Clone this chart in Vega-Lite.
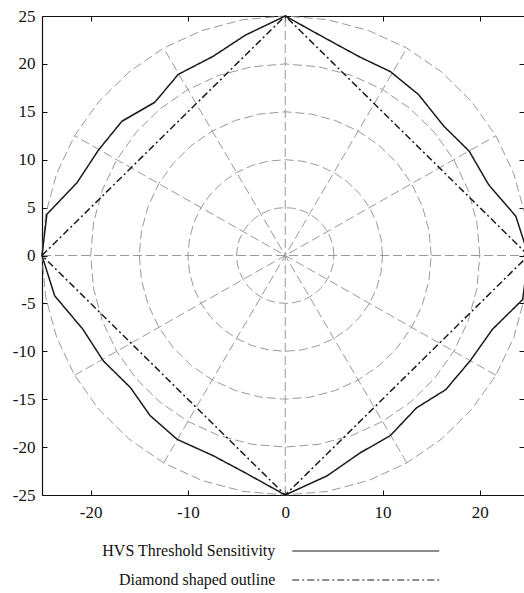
{
"$schema": "https://vega.github.io/schema/vega-lite/v6.json",
"autosize": {"type": "none"},
"width": 482, "height": 479,
"padding": {"left": 42, "top": 16, "right": 0, "bottom": 98},
"background": "white",
"config": {"view": {"stroke": null}, "axis": {"labelFont": "Liberation Serif", "labelFontSize": 17, "labelColor": "#111", "domainColor": "#111", "tickColor": "#111", "grid": false, "title": null, "labelFlush": false, "domainWidth": 1.2, "tickWidth": 1}},
"datasets": {
"grid": [
{"g":"c5","o":0,"x":5,"y":0},{"g":"c5","o":10,"x":4.924,"y":0.868},{"g":"c5","o":20,"x":4.698,"y":1.71},{"g":"c5","o":30,"x":4.33,"y":2.5},{"g":"c5","o":40,"x":3.83,"y":3.214},{"g":"c5","o":50,"x":3.214,"y":3.83},{"g":"c5","o":60,"x":2.5,"y":4.33},{"g":"c5","o":70,"x":1.71,"y":4.698},{"g":"c5","o":80,"x":0.868,"y":4.924},{"g":"c5","o":90,"x":0,"y":5},
{"g":"c5","o":100,"x":-0.868,"y":4.924},{"g":"c5","o":110,"x":-1.71,"y":4.698},{"g":"c5","o":120,"x":-2.5,"y":4.33},{"g":"c5","o":130,"x":-3.214,"y":3.83},{"g":"c5","o":140,"x":-3.83,"y":3.214},{"g":"c5","o":150,"x":-4.33,"y":2.5},{"g":"c5","o":160,"x":-4.698,"y":1.71},{"g":"c5","o":170,"x":-4.924,"y":0.868},{"g":"c5","o":180,"x":-5,"y":0},
{"g":"c5","o":190,"x":-4.924,"y":-0.868},{"g":"c5","o":200,"x":-4.698,"y":-1.71},{"g":"c5","o":210,"x":-4.33,"y":-2.5},{"g":"c5","o":220,"x":-3.83,"y":-3.214},{"g":"c5","o":230,"x":-3.214,"y":-3.83},{"g":"c5","o":240,"x":-2.5,"y":-4.33},{"g":"c5","o":250,"x":-1.71,"y":-4.698},{"g":"c5","o":260,"x":-0.868,"y":-4.924},{"g":"c5","o":270,"x":0,"y":-5},
{"g":"c5","o":280,"x":0.868,"y":-4.924},{"g":"c5","o":290,"x":1.71,"y":-4.698},{"g":"c5","o":300,"x":2.5,"y":-4.33},{"g":"c5","o":310,"x":3.214,"y":-3.83},{"g":"c5","o":320,"x":3.83,"y":-3.214},{"g":"c5","o":330,"x":4.33,"y":-2.5},{"g":"c5","o":340,"x":4.698,"y":-1.71},{"g":"c5","o":350,"x":4.924,"y":-0.868},{"g":"c5","o":360,"x":5,"y":0},
{"g":"c10","o":0,"x":10,"y":0},{"g":"c10","o":10,"x":9.848,"y":1.736},{"g":"c10","o":20,"x":9.397,"y":3.42},{"g":"c10","o":30,"x":8.66,"y":5},{"g":"c10","o":40,"x":7.66,"y":6.428},{"g":"c10","o":50,"x":6.428,"y":7.66},{"g":"c10","o":60,"x":5,"y":8.66},{"g":"c10","o":70,"x":3.42,"y":9.397},{"g":"c10","o":80,"x":1.736,"y":9.848},{"g":"c10","o":90,"x":0,"y":10},
{"g":"c10","o":100,"x":-1.736,"y":9.848},{"g":"c10","o":110,"x":-3.42,"y":9.397},{"g":"c10","o":120,"x":-5,"y":8.66},{"g":"c10","o":130,"x":-6.428,"y":7.66},{"g":"c10","o":140,"x":-7.66,"y":6.428},{"g":"c10","o":150,"x":-8.66,"y":5},{"g":"c10","o":160,"x":-9.397,"y":3.42},{"g":"c10","o":170,"x":-9.848,"y":1.736},{"g":"c10","o":180,"x":-10,"y":0},
{"g":"c10","o":190,"x":-9.848,"y":-1.736},{"g":"c10","o":200,"x":-9.397,"y":-3.42},{"g":"c10","o":210,"x":-8.66,"y":-5},{"g":"c10","o":220,"x":-7.66,"y":-6.428},{"g":"c10","o":230,"x":-6.428,"y":-7.66},{"g":"c10","o":240,"x":-5,"y":-8.66},{"g":"c10","o":250,"x":-3.42,"y":-9.397},{"g":"c10","o":260,"x":-1.736,"y":-9.848},{"g":"c10","o":270,"x":0,"y":-10},
{"g":"c10","o":280,"x":1.736,"y":-9.848},{"g":"c10","o":290,"x":3.42,"y":-9.397},{"g":"c10","o":300,"x":5,"y":-8.66},{"g":"c10","o":310,"x":6.428,"y":-7.66},{"g":"c10","o":320,"x":7.66,"y":-6.428},{"g":"c10","o":330,"x":8.66,"y":-5},{"g":"c10","o":340,"x":9.397,"y":-3.42},{"g":"c10","o":350,"x":9.848,"y":-1.736},{"g":"c10","o":360,"x":10,"y":0},
{"g":"c15","o":0,"x":15,"y":0},{"g":"c15","o":10,"x":14.772,"y":2.605},{"g":"c15","o":20,"x":14.095,"y":5.13},{"g":"c15","o":30,"x":12.99,"y":7.5},{"g":"c15","o":40,"x":11.491,"y":9.642},{"g":"c15","o":50,"x":9.642,"y":11.491},{"g":"c15","o":60,"x":7.5,"y":12.99},{"g":"c15","o":70,"x":5.13,"y":14.095},{"g":"c15","o":80,"x":2.605,"y":14.772},{"g":"c15","o":90,"x":0,"y":15},
{"g":"c15","o":100,"x":-2.605,"y":14.772},{"g":"c15","o":110,"x":-5.13,"y":14.095},{"g":"c15","o":120,"x":-7.5,"y":12.99},{"g":"c15","o":130,"x":-9.642,"y":11.491},{"g":"c15","o":140,"x":-11.491,"y":9.642},{"g":"c15","o":150,"x":-12.99,"y":7.5},{"g":"c15","o":160,"x":-14.095,"y":5.13},{"g":"c15","o":170,"x":-14.772,"y":2.605},{"g":"c15","o":180,"x":-15,"y":0},
{"g":"c15","o":190,"x":-14.772,"y":-2.605},{"g":"c15","o":200,"x":-14.095,"y":-5.13},{"g":"c15","o":210,"x":-12.99,"y":-7.5},{"g":"c15","o":220,"x":-11.491,"y":-9.642},{"g":"c15","o":230,"x":-9.642,"y":-11.491},{"g":"c15","o":240,"x":-7.5,"y":-12.99},{"g":"c15","o":250,"x":-5.13,"y":-14.095},{"g":"c15","o":260,"x":-2.605,"y":-14.772},{"g":"c15","o":270,"x":0,"y":-15},
{"g":"c15","o":280,"x":2.605,"y":-14.772},{"g":"c15","o":290,"x":5.13,"y":-14.095},{"g":"c15","o":300,"x":7.5,"y":-12.99},{"g":"c15","o":310,"x":9.642,"y":-11.491},{"g":"c15","o":320,"x":11.491,"y":-9.642},{"g":"c15","o":330,"x":12.99,"y":-7.5},{"g":"c15","o":340,"x":14.095,"y":-5.13},{"g":"c15","o":350,"x":14.772,"y":-2.605},{"g":"c15","o":360,"x":15,"y":0},
{"g":"c20","o":0,"x":20,"y":0},{"g":"c20","o":10,"x":19.696,"y":3.473},{"g":"c20","o":20,"x":18.794,"y":6.84},{"g":"c20","o":30,"x":17.321,"y":10},{"g":"c20","o":40,"x":15.321,"y":12.856},{"g":"c20","o":50,"x":12.856,"y":15.321},{"g":"c20","o":60,"x":10,"y":17.321},{"g":"c20","o":70,"x":6.84,"y":18.794},{"g":"c20","o":80,"x":3.473,"y":19.696},{"g":"c20","o":90,"x":0,"y":20},
{"g":"c20","o":100,"x":-3.473,"y":19.696},{"g":"c20","o":110,"x":-6.84,"y":18.794},{"g":"c20","o":120,"x":-10,"y":17.321},{"g":"c20","o":130,"x":-12.856,"y":15.321},{"g":"c20","o":140,"x":-15.321,"y":12.856},{"g":"c20","o":150,"x":-17.321,"y":10},{"g":"c20","o":160,"x":-18.794,"y":6.84},{"g":"c20","o":170,"x":-19.696,"y":3.473},{"g":"c20","o":180,"x":-20,"y":0},
{"g":"c20","o":190,"x":-19.696,"y":-3.473},{"g":"c20","o":200,"x":-18.794,"y":-6.84},{"g":"c20","o":210,"x":-17.321,"y":-10},{"g":"c20","o":220,"x":-15.321,"y":-12.856},{"g":"c20","o":230,"x":-12.856,"y":-15.321},{"g":"c20","o":240,"x":-10,"y":-17.321},{"g":"c20","o":250,"x":-6.84,"y":-18.794},{"g":"c20","o":260,"x":-3.473,"y":-19.696},{"g":"c20","o":270,"x":0,"y":-20},
{"g":"c20","o":280,"x":3.473,"y":-19.696},{"g":"c20","o":290,"x":6.84,"y":-18.794},{"g":"c20","o":300,"x":10,"y":-17.321},{"g":"c20","o":310,"x":12.856,"y":-15.321},{"g":"c20","o":320,"x":15.321,"y":-12.856},{"g":"c20","o":330,"x":17.321,"y":-10},{"g":"c20","o":340,"x":18.794,"y":-6.84},{"g":"c20","o":350,"x":19.696,"y":-3.473},{"g":"c20","o":360,"x":20,"y":0},
{"g":"c25","o":0,"x":25,"y":0},{"g":"c25","o":10,"x":24.62,"y":4.341},{"g":"c25","o":20,"x":23.492,"y":8.551},{"g":"c25","o":30,"x":21.651,"y":12.5},{"g":"c25","o":40,"x":19.151,"y":16.07},{"g":"c25","o":50,"x":16.07,"y":19.151},{"g":"c25","o":60,"x":12.5,"y":21.651},{"g":"c25","o":70,"x":8.551,"y":23.492},{"g":"c25","o":80,"x":4.341,"y":24.62},{"g":"c25","o":90,"x":0,"y":25},
{"g":"c25","o":100,"x":-4.341,"y":24.62},{"g":"c25","o":110,"x":-8.551,"y":23.492},{"g":"c25","o":120,"x":-12.5,"y":21.651},{"g":"c25","o":130,"x":-16.07,"y":19.151},{"g":"c25","o":140,"x":-19.151,"y":16.07},{"g":"c25","o":150,"x":-21.651,"y":12.5},{"g":"c25","o":160,"x":-23.492,"y":8.551},{"g":"c25","o":170,"x":-24.62,"y":4.341},{"g":"c25","o":180,"x":-25,"y":0},
{"g":"c25","o":190,"x":-24.62,"y":-4.341},{"g":"c25","o":200,"x":-23.492,"y":-8.551},{"g":"c25","o":210,"x":-21.651,"y":-12.5},{"g":"c25","o":220,"x":-19.151,"y":-16.07},{"g":"c25","o":230,"x":-16.07,"y":-19.151},{"g":"c25","o":240,"x":-12.5,"y":-21.651},{"g":"c25","o":250,"x":-8.551,"y":-23.492},{"g":"c25","o":260,"x":-4.341,"y":-24.62},{"g":"c25","o":270,"x":0,"y":-25},
{"g":"c25","o":280,"x":4.341,"y":-24.62},{"g":"c25","o":290,"x":8.551,"y":-23.492},{"g":"c25","o":300,"x":12.5,"y":-21.651},{"g":"c25","o":310,"x":16.07,"y":-19.151},{"g":"c25","o":320,"x":19.151,"y":-16.07},{"g":"c25","o":330,"x":21.651,"y":-12.5},{"g":"c25","o":340,"x":23.492,"y":-8.551},{"g":"c25","o":350,"x":24.62,"y":-4.341},{"g":"c25","o":360,"x":25,"y":0},
{"g":"s0","o":0,"x":-25,"y":0},{"g":"s0","o":1,"x":25,"y":0},
{"g":"s30","o":0,"x":-21.651,"y":-12.5},{"g":"s30","o":1,"x":21.651,"y":12.5},
{"g":"s60","o":0,"x":-12.5,"y":-21.651},{"g":"s60","o":1,"x":12.5,"y":21.651},
{"g":"s90","o":0,"x":0,"y":-25},{"g":"s90","o":1,"x":0,"y":25},
{"g":"s120","o":0,"x":12.5,"y":-21.651},{"g":"s120","o":1,"x":-12.5,"y":21.651},
{"g":"s150","o":0,"x":21.651,"y":-12.5},{"g":"s150","o":1,"x":-21.651,"y":12.5}
],
"curves": [
{"s":"HVS Threshold Sensitivity","o":0,"x":25,"y":0},
{"s":"HVS Threshold Sensitivity","o":10,"x":23.7,"y":4.1},
{"s":"HVS Threshold Sensitivity","o":20,"x":20.9,"y":7.4},
{"s":"HVS Threshold Sensitivity","o":30,"x":18.9,"y":10.9},
{"s":"HVS Threshold Sensitivity","o":40,"x":16.3,"y":13.5},
{"s":"HVS Threshold Sensitivity","o":50,"x":13.7,"y":16.8},
{"s":"HVS Threshold Sensitivity","o":60,"x":10.8,"y":19.2},
{"s":"HVS Threshold Sensitivity","o":70,"x":7.7,"y":20.7},
{"s":"HVS Threshold Sensitivity","o":80,"x":3.9,"y":22.8},
{"s":"HVS Threshold Sensitivity","o":90,"x":0,"y":25},
{"s":"HVS Threshold Sensitivity","o":100,"x":-4.1,"y":23.0},
{"s":"HVS Threshold Sensitivity","o":110,"x":-7.4,"y":20.8},
{"s":"HVS Threshold Sensitivity","o":120,"x":-11.0,"y":18.9},
{"s":"HVS Threshold Sensitivity","o":130,"x":-13.4,"y":16.0},
{"s":"HVS Threshold Sensitivity","o":140,"x":-16.8,"y":14.0},
{"s":"HVS Threshold Sensitivity","o":150,"x":-19.2,"y":11.0},
{"s":"HVS Threshold Sensitivity","o":160,"x":-21.4,"y":7.6},
{"s":"HVS Threshold Sensitivity","o":170,"x":-24.5,"y":4.3},
{"s":"HVS Threshold Sensitivity","o":180,"x":-25,"y":0},
{"s":"HVS Threshold Sensitivity","o":190,"x":-23.7,"y":-4.2},
{"s":"HVS Threshold Sensitivity","o":200,"x":-20.8,"y":-7.7},
{"s":"HVS Threshold Sensitivity","o":210,"x":-18.7,"y":-11.0},
{"s":"HVS Threshold Sensitivity","o":220,"x":-15.9,"y":-13.8},
{"s":"HVS Threshold Sensitivity","o":230,"x":-13.9,"y":-16.7},
{"s":"HVS Threshold Sensitivity","o":240,"x":-11.1,"y":-19.2},
{"s":"HVS Threshold Sensitivity","o":250,"x":-7.4,"y":-20.9},
{"s":"HVS Threshold Sensitivity","o":260,"x":-3.9,"y":-22.8},
{"s":"HVS Threshold Sensitivity","o":270,"x":0,"y":-25},
{"s":"HVS Threshold Sensitivity","o":280,"x":4.3,"y":-23.0},
{"s":"HVS Threshold Sensitivity","o":290,"x":7.7,"y":-20.6},
{"s":"HVS Threshold Sensitivity","o":300,"x":10.8,"y":-18.8},
{"s":"HVS Threshold Sensitivity","o":310,"x":13.5,"y":-15.9},
{"s":"HVS Threshold Sensitivity","o":320,"x":16.5,"y":-14.0},
{"s":"HVS Threshold Sensitivity","o":330,"x":19.0,"y":-11.0},
{"s":"HVS Threshold Sensitivity","o":340,"x":21.3,"y":-7.7},
{"s":"HVS Threshold Sensitivity","o":350,"x":24.4,"y":-4.6},
{"s":"HVS Threshold Sensitivity","o":360,"x":25,"y":0},
{"s":"Diamond shaped outline","o":0,"x":-25,"y":0},
{"s":"Diamond shaped outline","o":1,"x":0,"y":25},
{"s":"Diamond shaped outline","o":2,"x":25,"y":0},
{"s":"Diamond shaped outline","o":3,"x":0,"y":-25},
{"s":"Diamond shaped outline","o":4,"x":-25,"y":0}
],
"legend": [
{"s":"HVS Threshold Sensitivity"},
{"s":"Diamond shaped outline"}
]
},
"layer": [
{
"data": {"name": "grid"},
"mark": {"type": "line", "color": "#999999", "strokeWidth": 1, "strokeDash": [9, 4]},
"encoding": {
"x": {"field": "x", "type": "quantitative", "scale": {"domain": [-25, 24.54], "nice": false, "zero": false}, "axis": {"orient": "bottom", "values": [-20, -10, 0, 10, 20], "tickSize": -5, "labelPadding": 14, "labelExpr": "'' + datum.value"}},
"y": {"field": "y", "type": "quantitative", "scale": {"domain": [-25, 25], "nice": false, "zero": false}, "axis": {"orient": "left", "values": [-25, -20, -15, -10, -5, 0, 5, 10, 15, 20, 25], "tickSize": -5, "labelPadding": 12, "labelExpr": "'' + datum.value"}},
"detail": {"field": "g"},
"order": {"field": "o", "type": "quantitative"}
}
},
{
"data": {"name": "curves"},
"mark": {"type": "line", "color": "#1a1a1a", "strokeWidth": 1.5},
"encoding": {
"x": {"field": "x", "type": "quantitative", "scale": {"domain": [-25, 24.54], "nice": false, "zero": false}, "axis": {"orient": "top", "values": [-20, -10, 0, 10, 20], "tickSize": -5, "labels": false}},
"y": {"field": "y", "type": "quantitative", "scale": {"domain": [-25, 25], "nice": false, "zero": false}, "axis": {"orient": "right", "values": [-25, -20, -15, -10, -5, 0, 5, 10, 15, 20, 25], "tickSize": -5, "labels": false, "domain": false}},
"detail": {"field": "s"},
"strokeDash": {"field": "s", "type": "nominal", "scale": {"domain": ["HVS Threshold Sensitivity", "Diamond shaped outline"], "range": [[1, 0], [7, 3, 2, 3]]}, "legend": null},
"order": {"field": "o", "type": "quantitative"}
}
},
{
"data": {"name": "legend"},
"mark": {"type": "text", "align": "right", "baseline": "middle", "font": "Liberation Serif", "fontSize": 16, "color": "#111"},
"encoding": {
"x": {"datum": -1.02, "type": "quantitative", "scale": {"domain": [-25, 24.54], "nice": false, "zero": false}, "axis": null},
"y": {"field": "s", "type": "nominal", "scale": {"type": "point", "domain": ["HVS Threshold Sensitivity", "Diamond shaped outline"], "range": [535, 564], "padding": 0}, "axis": null},
"text": {"field": "s"}
}
},
{
"data": {"name": "legend"},
"mark": {"type": "rule", "color": "#1a1a1a", "strokeWidth": 1.2},
"encoding": {
"x": {"datum": 0.72, "type": "quantitative", "scale": {"domain": [-25, 24.54], "nice": false, "zero": false}, "axis": null},
"x2": {"datum": 15.83},
"y": {"field": "s", "type": "nominal", "scale": {"type": "point", "domain": ["HVS Threshold Sensitivity", "Diamond shaped outline"], "range": [535, 564], "padding": 0}, "axis": null},
"strokeDash": {"field": "s", "type": "nominal", "scale": {"domain": ["HVS Threshold Sensitivity", "Diamond shaped outline"], "range": [[1, 0], [7, 3, 2, 3]]}, "legend": null}
}
}
],
"resolve": {"scale": {"y": "independent"}, "axis": {"x": "independent", "y": "independent"}}
}
